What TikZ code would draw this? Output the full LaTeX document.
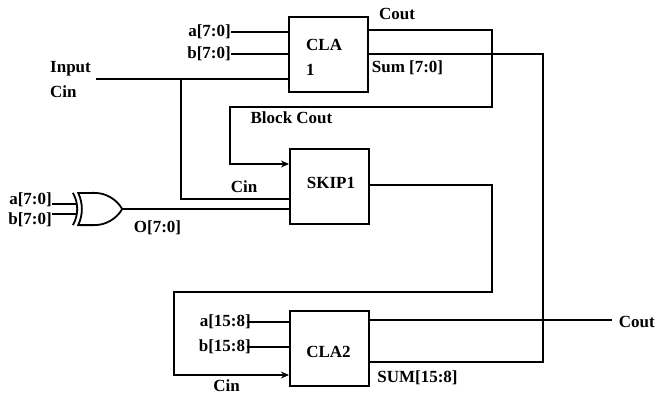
\documentclass[tikz,border=0pt]{standalone}
\usepackage{fontspec}
\setmainfont{Liberation Serif}
\usetikzlibrary{arrows.meta,shapes.gates.logic.US}
\tikzset{
  wire/.style={line width=2pt},
  blockbox/.style={draw, line width=2pt, minimum width=79pt, minimum height=75pt, inner sep=0pt},
  lbl/.style={font=\fontsize{17}{25}\selectfont\bfseries, inner sep=0pt},
  feed/.style={wire, -{Stealth[length=8pt,width=7pt]}}
}
\begin{document}
\begin{tikzpicture}[x=1pt,y=-1pt]
    \useasboundingbox (0,0) rectangle (656,396);

    % Blocos
    \node[blockbox] (cla1) at (328.5,54.5) {};
    \node[blockbox] (skip1) at (329.5,186) {};
    \node[blockbox] (cla2) at (329.5,348) {};
    \node[lbl, anchor=west, align=left] (cla1txt) at (306,57.5) {CLA\\1};
    \node[lbl] (skip1txt) at (331,183) {SKIP1};
    \node[lbl] (cla2txt) at (328.5,352) {CLA2};

    % Porta XOR
    \node[xor gate US, draw, logic gate inputs=nn, logic gate input sep=6.5pt, line width=1.8pt, minimum width=44pt, minimum height=29pt, inner sep=0pt] (xorgate) at (97,209) {};

    % Entradas
    \node[lbl, anchor=east] (a1) at (231,32) {a[7:0]};
    \node[lbl, anchor=east] (b1) at (231,54) {b[7:0]};
    \node[lbl, anchor=west, align=left] (inputcin) at (50,80) {Input\\Cin};
    \node[lbl, anchor=east] (a0) at (52,200) {a[7:0]};
    \node[lbl, anchor=east] (b0) at (52,220) {b[7:0]};
    \node[lbl, anchor=east] (a2) at (251,322) {a[15:8]};
    \node[lbl, anchor=east] (b2) at (251,347) {b[15:8]};

    % Saidas e rotulos
    \node[lbl] (cout1) at (397,14) {Cout};
    \node[lbl] (sum1) at (407.5,68) {Sum [7:0]};
    \node[lbl] (blockcout) at (291.5,118) {Block Cout};
    \node[lbl] (cin1) at (244,187) {Cin};
    \node[lbl] (o0) at (157.5,228) {O[7:0]};
    \node[lbl, anchor=east] (cout2) at (655,322) {Cout};
    \node[lbl] (sum2) at (417.5,378) {SUM[15:8]};
    \node[lbl] (cin2) at (226.5,386) {Cin};

    % Pontos livres
    \coordinate (tap) at (181,79);
    \coordinate (fold1) at (492,30);
    \coordinate (fold2) at (230,107);
    \coordinate (fold3) at (492,292);
    \coordinate (fold4) at (174,375);
    \coordinate (fold5) at (543,54);

    % Fios de entrada
    \draw[wire] (a1.east) -- (cla1.west |- a1);
    \draw[wire] (b1.east) -- (cla1.west |- b1);
    \draw[wire] ([xshift=5pt]inputcin.east |- tap) -- (cla1.west |- tap);
    \draw[wire] (tap) |- (skip1.west |- 0,199);
    \draw[wire] (a0.east |- xorgate.input 1) -- (xorgate.input 1);
    \draw[wire] (b0.east |- xorgate.input 2) -- (xorgate.input 2);
    \draw[wire] (xorgate.output) -- (skip1.west |- xorgate.output);
    \draw[wire] ([xshift=-4pt]a2.east) -- (cla2.west |- a2);
    \draw[wire] ([xshift=-4pt]b2.east) -- (cla2.west |- b2);

    % Block Cout e Sum
    \draw[feed] (cla1.east |- fold1) -- (fold1) |- (fold2) |- (skip1.west |- 0,164);
    \draw[wire] (cla1.east |- fold5) -- (fold5) |- (cla2.east |- 0,362);

    % SKIP1 para CLA2
    \draw[feed] (skip1.east |- 0,185) -| (fold3) -| (fold4) -- (cla2.west |- fold4);

    % Cout final
    \draw[wire] (cla2.east |- 0,320) -- ([xshift=-7pt]cout2.west |- 0,320);
\end{tikzpicture}
\end{document}
